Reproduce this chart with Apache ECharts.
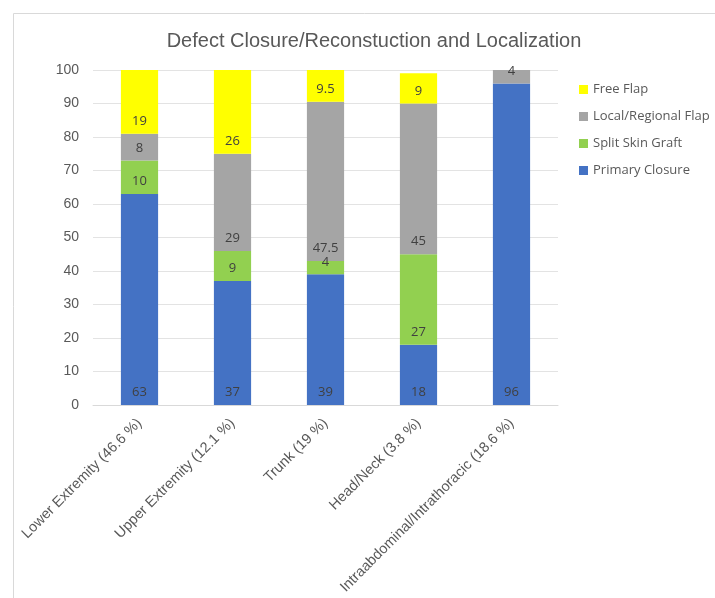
<!DOCTYPE html>
<html>
<head>
<meta charset="utf-8">
<title>Defect Closure</title>
<script src="https://cdn.jsdelivr.net/npm/echarts@6/dist/echarts.min.js"></script>
<style>
  html, body { margin: 0; padding: 0; background: #fff; }
  #main { width: 715px; height: 598px; }
</style>
</head>
<body>
<div id="main"></div>
<script>
// categories along the x axis
var categories = [
  'Lower Extremity (46.6 %)',
  'Upper Extremity (12.1 %)',
  'Trunk (19 %)',
  'Head/Neck (3.8 %)',
  'Intraabdominal/Intrathoracic (18.6 %)'
];
// stacked values, bottom to top
var primaryClosure = [63, 37, 39, 18, 96];
var splitSkinGraft = [10, 9, 4, 27, 0];
var localRegionalFlap = [8, 29, 47.5, 45, 4];
var freeFlap = [19, 26, 9.5, 9, 0];
var yTicks = { min: 0, max: 100, interval: 10 };

var textColor = '#595959';

function seg(name, data, color) {
  return {
    name: name,
    type: 'bar',
    stack: 'total',
    barWidth: '40%',
    data: data,
    itemStyle: { color: color },
    label: {
      show: true,
      position: 'insideBottom',
      distance: 6,
      color: '#404040',
      fontSize: 13,
      fontFamily: 'Open Sans, sans-serif',
      formatter: function (p) { return p.value ? String(p.value) : ''; }
    }
  };
}

var chart = echarts.init(document.getElementById('main'));
chart.setOption({
  animation: false,
  title: {
    text: 'Defect Closure/Reconstuction and Localization',
    left: 369,
    textAlign: 'center',
    top: 26,
    textStyle: { fontSize: 20, fontWeight: 'normal', color: textColor, fontFamily: 'Liberation Sans, Arial, sans-serif' }
  },
  graphic: [{
    type: 'rect',
    shape: { x: 13.5, y: 13.5, width: 900, height: 900 },
    style: { fill: 'none', stroke: '#d9d9d9', lineWidth: 1 },
    silent: true
  }],
  legend: {
    orient: 'vertical',
    left: 574,
    top: 78,
    itemWidth: 9,
    itemHeight: 9,
    itemGap: 14,
    icon: 'rect',
    data: ['Free Flap', 'Local/Regional Flap', 'Split Skin Graft', 'Primary Closure'],
    textStyle: { fontSize: 13, color: textColor, fontFamily: 'Open Sans, sans-serif' }
  },
  grid: { left: 93, right: 157, top: 70, bottom: 193, containLabel: false, outerBoundsMode: 'none' },
  xAxis: {
    type: 'category',
    data: categories,
    axisLine: { lineStyle: { color: '#d9d9d9' } },
    axisTick: { show: false },
    axisLabel: {
      rotate: 45,
      interval: 0,
      margin: 16,
      fontSize: 14.5,
      color: textColor,
      fontFamily: 'Liberation Sans, Arial, sans-serif'
    }
  },
  yAxis: {
    type: 'value',
    min: yTicks.min,
    max: yTicks.max,
    interval: yTicks.interval,
    axisLine: { show: false },
    axisTick: { show: false },
    splitLine: { lineStyle: { color: '#e3e3e3' } },
    axisLabel: { fontSize: 14, color: textColor, margin: 14, fontFamily: 'Liberation Sans, Arial, sans-serif' }
  },
  series: [
    seg('Primary Closure', primaryClosure, '#4472C4'),
    seg('Split Skin Graft', splitSkinGraft, '#92D050'),
    seg('Local/Regional Flap', localRegionalFlap, '#A5A5A5'),
    seg('Free Flap', freeFlap, '#FFFF00')
  ]
});
</script>
</body>
</html>
